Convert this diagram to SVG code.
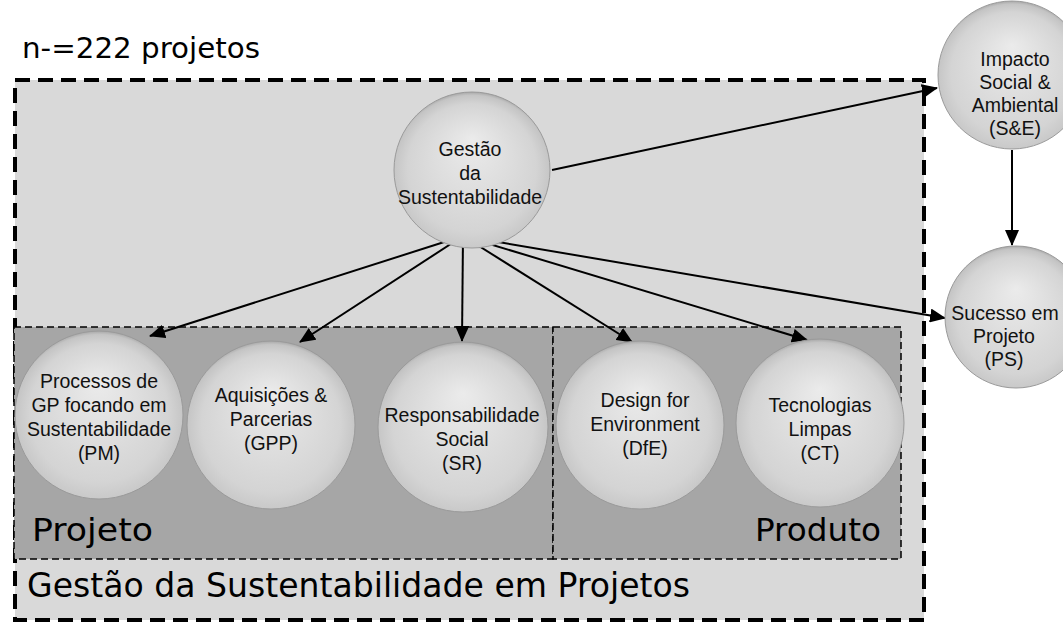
<svg xmlns="http://www.w3.org/2000/svg" width="1063" height="623" viewBox="0 0 1063 623">
<style>
.lbl{font-family:"Liberation Sans",Arial,sans-serif;font-size:19.5px;fill:#111;text-anchor:middle}
.big{font-family:"DejaVu Sans","Noto Sans",sans-serif;fill:#000}
.ball{fill:url(#g);stroke:#9a9a9a;stroke-width:1}
.con{stroke:#000;stroke-width:2;fill:none;marker-end:url(#ah)}
</style>
<defs>
<radialGradient id="g" cx="0.5" cy="0.55" r="0.55" fx="0.5" fy="0.3">
<stop offset="0" stop-color="#ebebeb"/>
<stop offset="0.75" stop-color="#d4d4d4"/>
<stop offset="0.93" stop-color="#c4c4c4"/>
<stop offset="1" stop-color="#a8a8a8"/>
</radialGradient>
<marker id="ah" markerWidth="16" markerHeight="14" refX="15" refY="7" orient="auto" markerUnits="userSpaceOnUse">
<path d="M0,0 L16,7 L0,14 Z" fill="#000"/>
</marker>
</defs>
<rect width="1063" height="623" fill="#fff"/>
<g id="frame">
<rect x="15" y="80" width="909" height="540" fill="#d9d9d9" stroke="#000" stroke-width="4" stroke-dasharray="15,8"/>
<rect x="14" y="327" width="539" height="232" fill="#a6a6a6" stroke="#000" stroke-width="1.5" stroke-dasharray="7,4"/>
<rect x="553" y="327" width="348" height="232" fill="#a6a6a6" stroke="#000" stroke-width="1.5" stroke-dasharray="7,4"/>
<text class="big" x="22" y="58" font-size="29" textLength="238" lengthAdjust="spacingAndGlyphs">n-=222 projetos</text>
<text class="big" x="32" y="541" font-size="32" textLength="121" lengthAdjust="spacingAndGlyphs">Projeto</text>
<text class="big" x="755" y="541" font-size="32" textLength="126" lengthAdjust="spacingAndGlyphs">Produto</text>
<text class="big" x="27" y="597" font-size="33" textLength="663" lengthAdjust="spacingAndGlyphs">Gestão da Sustentabilidade em Projetos</text>
</g>
<g id="connectors">
<line class="con" x1="552" y1="170" x2="937" y2="88"/>
<line class="con" x1="1012" y1="150" x2="1012" y2="245"/>
<line class="con" x1="463" y1="236" x2="150" y2="336"/>
<line class="con" x1="463" y1="236" x2="300" y2="342"/>
<line class="con" x1="463" y1="236" x2="462" y2="341"/>
<line class="con" x1="463" y1="236" x2="632" y2="342"/>
<line class="con" x1="463" y1="236" x2="807" y2="340"/>
<line class="con" x1="463" y1="236" x2="945" y2="318"/>
</g>
<g id="n-gestao">
<circle class="ball" cx="472" cy="170" r="78"/>
<text class="lbl" x="470" y="156">Gestão</text>
<text class="lbl" x="470" y="180">da</text>
<text class="lbl" x="470" y="204">Sustentabilidade</text>
</g>
<g id="n-impacto">
<circle class="ball" cx="1012" cy="75" r="74"/>
<text class="lbl" x="1015" y="66">Impacto</text>
<text class="lbl" x="1015" y="89">Social &amp;</text>
<text class="lbl" x="1015" y="112">Ambiental</text>
<text class="lbl" x="1015" y="135">(S&amp;E)</text>
</g>
<g id="n-sucesso">
<circle class="ball" cx="1016" cy="317" r="71"/>
<text class="lbl" x="1005" y="320">Sucesso em</text>
<text class="lbl" x="1004" y="343">Projeto</text>
<text class="lbl" x="1004" y="366">(PS)</text>
</g>
<g id="n-pm">
<circle class="ball" cx="99" cy="415" r="84"/>
<text class="lbl" x="99" y="388">Processos de</text>
<text class="lbl" x="99" y="412">GP focando em</text>
<text class="lbl" x="99" y="436">Sustentabilidade</text>
<text class="lbl" x="99" y="460">(PM)</text>
</g>
<g id="n-gpp">
<circle class="ball" cx="271" cy="425" r="84"/>
<text class="lbl" x="271" y="402">Aquisições &amp;</text>
<text class="lbl" x="271" y="426">Parcerias</text>
<text class="lbl" x="271" y="450">(GPP)</text>
</g>
<g id="n-sr">
<circle class="ball" cx="463" cy="427" r="85"/>
<text class="lbl" x="462" y="422">Responsabilidade</text>
<text class="lbl" x="462" y="446">Social</text>
<text class="lbl" x="462" y="470">(SR)</text>
</g>
<g id="n-dfe">
<circle class="ball" cx="640" cy="425" r="84"/>
<text class="lbl" x="645" y="407">Design for</text>
<text class="lbl" x="645" y="431">Environment</text>
<text class="lbl" x="645" y="455">(DfE)</text>
</g>
<g id="n-ct">
<circle class="ball" cx="820" cy="423" r="84"/>
<text class="lbl" x="820" y="412">Tecnologias</text>
<text class="lbl" x="820" y="436">Limpas</text>
<text class="lbl" x="820" y="460">(CT)</text>
</g>
</svg>
